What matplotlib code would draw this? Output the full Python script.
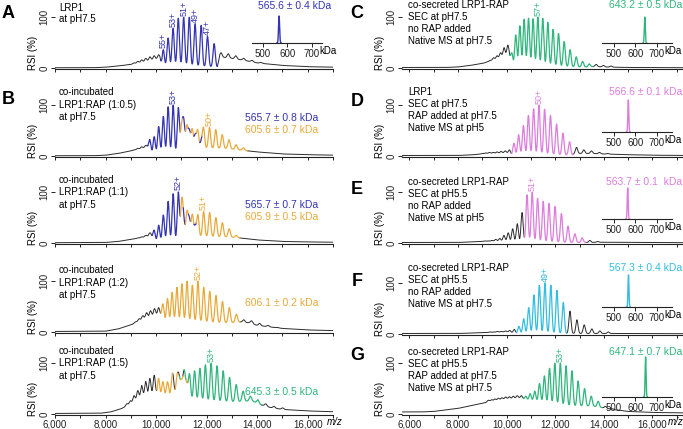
import numpy as np
import matplotlib
matplotlib.use('Agg')
import matplotlib.pyplot as plt

plt.rcParams['font.family'] = ['Liberation Sans', 'DejaVu Sans']

BLUE = '#3434b4'
ORANGE = '#e9a93a'
GREEN = '#2fb67c'
PINK = '#dc7ddc'
CYAN = '#33bde0'
BLACK = '#2b2b2b'

# ---------------- data ----------------
# Panel A : LRP1
A_BG_MZ = [5800, 7500, 8000, 8500, 9000, 9500, 9900, 10150, 10230, 12420, 12520, 13000, 13500, 14000, 15000, 16000, 17200]
A_BG_Y = [0.5, 0.5, 1.5, 4, 7, 11, 16, 18, 2, 2, 22, 19, 15, 10, 5, 2.5, 1.5]
A_BLUE_Z = [55, 54, 53, 52, 51, 50, 49, 48, 47, 46]
A_BLUE_H = [36, 59, 78, 98, 100, 100, 86, 84, 62, 48]
A_BLACK_Z = [62, 61, 60, 59, 58, 57, 56, 45, 44, 43, 42, 41, 40]
A_BLACK_H = [10, 13, 16, 19, 22, 24, 26, 30, 28, 24, 19, 15, 11]

# Panel B1 : LRP1:RAP (1:0.5)
B1_BG_MZ = [5800, 7500, 8000, 8500, 9000, 9500, 9750, 9850, 10900, 11300, 12800, 13300, 14000, 15000, 16000, 17200]
B1_BG_Y = [0.5, 0.5, 1.5, 5, 10, 15, 18, 3, 3, 15, 15, 12, 8, 4, 2.5, 1.5]
B1_BLUE_Z = [58, 57, 56, 55, 54, 53, 52, 51, 50, 49, 48]
B1_BLUE_H = [32, 38, 58, 78, 97, 100, 95, 65, 48, 40, 28]
B1_ORANGE_Z = [55, 54, 53, 52, 51, 50, 49, 48, 47, 46, 45]
B1_ORANGE_H = [55, 58, 52, 50, 55, 56, 52, 42, 32, 22, 16]
B1_BLACK_Z = [64, 63, 62, 61, 60, 59]
B1_BLACK_H = [7, 9, 12, 15, 18, 21]

# Panel B2 : LRP1:RAP (1:1)
B2_BG_MZ = [5800, 8000, 8500, 9000, 9500, 9800, 9950, 11000, 11300, 12900, 13300, 14000, 15000, 16000, 17200]
B2_BG_Y = [0.5, 1, 3, 7, 11, 14, 2, 2, 12, 12, 10, 6, 3, 2, 1.5]
B2_BLUE_Z = [57, 56, 55, 54, 53, 52, 51, 50, 49]
B2_BLUE_H = [25, 35, 55, 82, 97, 100, 40, 45, 32]
B2_ORANGE_Z = [55, 54, 53, 52, 51, 50, 49, 48, 47, 46]
B2_ORANGE_H = [80, 60, 55, 55, 62, 60, 50, 40, 28, 15]
B2_BLACK_Z = [63, 62, 61, 60, 59, 58]
B2_BLACK_H = [6, 8, 10, 12, 15, 20]

# Panel B3 : LRP1:RAP (1:2)
B3_BG_MZ = [5800, 8000, 8500, 9000, 9500, 10000, 10200, 10300, 12900, 13300, 13700, 14000, 15000, 16000, 17200]
B3_BG_Y = [1, 1.5, 6, 14, 24, 32, 30, 18, 18, 20, 18, 13, 7, 4, 2.5]
B3_ORANGE_Z = [59, 58, 57, 56, 55, 54, 53, 52, 51, 50, 49, 48, 47, 46]
B3_ORANGE_H = [55, 66, 78, 88, 95, 100, 92, 100, 88, 80, 72, 60, 48, 35]
B3_BLACK_Z = [66, 65, 64, 63, 62, 61, 60, 45, 44, 43, 42, 41]
B3_BLACK_H = [20, 26, 32, 38, 42, 46, 48, 24, 22, 17, 13, 9]

# Panel B4 : LRP1:RAP (1:5)
B4_BG_MZ = [5800, 7800, 8200, 8600, 9000, 9300, 9600, 10000, 11000, 12000, 13000, 13800, 14100, 14500, 15000, 16000, 17200]
B4_BG_Y = [1, 1.5, 4, 10, 19, 27, 33, 35, 30, 24, 24, 26, 19, 13, 9, 6, 4]
B4_BLACK_Z = [64, 63, 62, 61, 60, 59, 58, 57, 56, 55, 54, 53, 52, 51]
B4_BLACK_H = [20, 26, 36, 46, 56, 64, 70, 73, 50, 42, 42, 62, 64, 55]
B4_ORANGE_Z = [61, 60, 59, 58, 57, 56, 55, 54]
B4_ORANGE_H = [38, 55, 56, 56, 58, 60, 58, 55]
B4_GREEN_Z = [59, 58, 57, 56, 55, 54, 53, 52, 51, 50, 49, 48, 47, 46]
B4_GREEN_H = [50, 62, 78, 85, 90, 97, 100, 95, 85, 72, 58, 45, 35, 28]
B4_TAIL_Z = [45, 44, 43]
B4_TAIL_H = [20, 15, 12]

# Panel C
C_BG_MZ = [5800, 7500, 8000, 8500, 9000, 9500, 9900, 10100, 10200, 13300, 13600, 14000, 15000, 17700]
C_BG_Y = [1, 1, 2, 5, 9, 15, 22, 22, 2, 2, 3, 2, 1, 0.5]
C_GREEN_Z = [63, 62, 61, 60, 59, 58, 57, 56, 55, 54, 53, 52, 51, 50, 49, 48]
C_GREEN_H = [30, 65, 83, 96, 98, 97, 100, 98, 90, 76, 68, 52, 36, 22, 13, 8]
C_BLACK_Z = [70, 69, 68, 67, 66, 65, 64, 47, 46, 45]
C_BLACK_H = [12, 15, 20, 24, 30, 40, 45, 7, 5, 4]

# Panel D
D_BG_MZ = [5800, 8000, 8500, 9000, 9500, 10000, 10200, 12700, 12800, 13500, 14000, 15000, 16000, 17700]
D_BG_Y = [1, 1, 2, 4, 5, 6, 2, 2, 5, 5, 4, 2.5, 1.5, 1]
D_PINK_Z = [55, 54, 53, 52, 51, 50, 49, 48, 47, 46, 45]
D_PINK_H = [25, 42, 60, 80, 93, 100, 92, 80, 63, 45, 28]
D_BLACK_Z = [63, 62, 61, 60, 59, 58, 57, 56, 44, 43, 42, 41, 40]
D_BLACK_H = [5, 6, 7, 7, 8, 9, 10, 12, 17, 12, 10, 7, 5]

# Panel E
E_BG_MZ = [5800, 8000, 8500, 9000, 9500, 10000, 10500, 13300, 14000, 16000, 17700]
E_BG_Y = [1, 1, 2, 3, 3.5, 3, 1, 1, 1.5, 1, 0.5]
E_PINK_Z = [52, 51, 50, 49, 48, 47, 46, 45, 44, 43]
E_PINK_H = [95, 100, 88, 82, 78, 72, 58, 33, 18, 10]
E_BLACK_Z = [62, 61, 60, 59, 58, 57, 56, 55, 54, 53, 42, 41]
E_BLACK_H = [4, 4, 5, 7, 9, 15, 20, 28, 38, 60, 5, 3]

# Panel F
F_BG_MZ = [5800, 8000, 9000, 10000, 10400, 14500, 16000, 17700]
F_BG_Y = [1, 1, 2.5, 4, 1, 1, 0.8, 0.5]
F_CYAN_Z = [54, 53, 52, 51, 50, 49, 48, 47, 46]
F_CYAN_H = [15, 30, 52, 77, 96, 100, 96, 86, 62]
F_BLACK_Z = [62, 61, 60, 59, 58, 57, 56, 55, 45, 44, 43, 42, 41, 40]
F_BLACK_H = [3, 4, 4, 5, 5, 6, 7, 9, 45, 28, 18, 10, 6, 4]

# Panel G
G_BG_MZ = [5600, 6500, 7000, 7500, 8000, 8500, 9000, 9500, 10000, 10500, 10800, 11500, 12500, 13500, 14000, 14500, 15000, 16000, 17700]
G_BG_Y = [4, 4, 5, 8, 11, 16, 21, 26, 29, 31, 28, 22, 15, 16, 12, 8, 5, 3, 2]
G_GREEN_Z = [60, 59, 58, 57, 56, 55, 54, 53, 52, 51, 50, 49, 48, 47]
G_GREEN_H = [35, 40, 45, 60, 75, 90, 100, 100, 95, 85, 65, 50, 35, 25]
G_BLACK_Z = [70, 69, 68, 67, 66, 65, 64, 63, 62, 61, 46, 45, 44]
G_BLACK_H = [27, 28, 29.5, 31, 32, 33.5, 34, 35, 36, 36, 15, 10, 7]

X_TICKS = [6000, 7000, 8000, 9000, 10000, 11000, 12000, 13000, 14000, 15000, 16000, 17000]
X_TICKLABELS = ['6,000', '', '8,000', '', '10,000', '', '12,000', '', '14,000', '', '16,000', '']
INSET_TICKS = [500, 600, 700]

# ---------------- helpers ----------------
W, H = 683, 429
fig = plt.figure(figsize=(W / 100, H / 100), dpi=100)

MZ = np.arange(5500, 17800, 4.0)
SIG = 44.0
PROTON = 1.007
TXT = 7


def px_axes(x0, x1, ytop, ybot):
    return fig.add_axes([x0 / W, 1 - ybot / H, (x1 - x0) / W, (ybot - ytop) / H])


def ft(x, y, s, **kw):
    kw.setdefault('fontsize', TXT)
    return fig.text(x / W, 1 - y / H, s, **kw)


def build(bg_mz, bg_y, series):
    bg = np.interp(MZ, bg_mz, bg_y)
    comps = []
    for mass, zs, hs, color in series:
        pos = mass / np.asarray(zs, float) + PROTON
        amp = np.clip(np.asarray(hs, float) - np.interp(pos, bg_mz, bg_y), 0, None)
        c = (amp[:, None] * np.exp(-0.5 * ((MZ[None, :] - pos[:, None]) / SIG) ** 2)).sum(0)
        ps = np.sort(pos)
        lo = ps[0] - 0.5 * (ps[1] - ps[0])
        hi = ps[-1] + 0.5 * (ps[-1] - ps[-2])
        comps.append((c, (MZ >= lo) & (MZ <= hi), color))
    total = bg + sum(c for c, _, _ in comps)
    best = np.full(MZ.shape, -1)
    bestval = np.full(MZ.shape, -1.0)
    for i, (c, r, col) in enumerate(comps):
        m = r & (c > bestval)
        best[m] = i
        bestval[m] = c[m]
    colors = [comps[b][2] if b >= 0 else BLACK for b in best]
    return total, colors


def draw_runs(ax, x, y, colors):
    n = len(x)
    start = 0
    for i in range(1, n + 1):
        if i == n or colors[i] != colors[start]:
            end = min(i + 1, n)
            col = colors[start]
            ax.plot(x[start:end], y[start:end], color=col,
                    lw=0.7 if col == BLACK else 0.9, zorder=2 if col == BLACK else 3,
                    solid_joinstyle='round')
            start = i


LEFT_Y0 = [68, 156, 243, 332, 414]
RIGHT_Y0 = [68, 156, 243, 334, 414]
LEFT_XLIM = (6000, 17000)
RIGHT_XLIM = (5695, 17259)


def main_axes(col, row):
    x0, x1 = (55, 333) if col == 0 else (402, 683)
    y0 = (LEFT_Y0 if col == 0 else RIGHT_Y0)[row]
    ax = px_axes(x0, x1, y0 - 66, y0 + 1)
    ax.set_xlim(LEFT_XLIM if col == 0 else RIGHT_XLIM)
    ax.set_ylim(-2, 130)
    for s in ('top', 'right', 'left'):
        ax.spines[s].set_visible(False)
    ax.spines['bottom'].set_linewidth(0.8)
    ax.spines['bottom'].set_color('#222222')
    ax.set_xticks(X_TICKS)
    if row == 4:
        ax.set_xticklabels(X_TICKLABELS)
    else:
        ax.set_xticklabels([])
    ax.tick_params(axis='x', direction='out', length=2.5, width=0.7, pad=0.8, labelsize=7, colors='#222222')
    ax.set_yticks([0, 100])
    ax.set_yticklabels(['0', '100'])
    ax.tick_params(axis='y', direction='out', length=3, width=0.7, pad=1, labelsize=7, colors='#222222')
    for t in ax.get_yticklabels():
        t.set_rotation(90)
        t.set_va('center')
    ft(x0 - 22, y0 - 15, 'RSI (%)', rotation=90, ha='center', va='center', fontsize=7)
    if row == 4:
        ft(x1 - 6 if col == 0 else 668, y0 + 8, 'm/z', style='italic', fontsize=7, ha='left', va='center')
    return ax


def spectrum(ax, bg_mz, bg_y, series, labels):
    total, colors = build(bg_mz, bg_y, series)
    draw_runs(ax, MZ, total, colors)
    for mass, z, color in labels:
        p = mass / z + PROTON
        top = np.interp(p, MZ, total)
        ax.annotate(f'{z}+', xy=(p, top), xytext=(0, 1.2), textcoords='offset points',
                    rotation=90, ha='center', va='bottom', fontsize=6.5, color=color)


def inset(x0, x1, ybase, ytop, xlim, mass, color, label, label_x, label_y):
    ax = px_axes(x0, x1, ytop, ybase)
    ax.set_xlim(xlim)
    ax.set_ylim(0, 1)
    k = np.linspace(mass - 9, mass + 9, 200)
    ax.plot(k, np.exp(-0.5 * ((k - mass) / 2.2) ** 2), color=color, lw=1.0, clip_on=False)
    for s in ('top', 'right', 'left'):
        ax.spines[s].set_visible(False)
    ax.spines['bottom'].set_linewidth(0.8)
    ax.spines['bottom'].set_color('#222222')
    ax.set_yticks([])
    ax.set_xticks(INSET_TICKS)
    ax.set_xticklabels([str(t) for t in INSET_TICKS])
    ax.tick_params(axis='x', direction='out', length=3, width=0.7, pad=1.5, labelsize=7, colors='#222222')
    px700 = x0 + (700 - xlim[0]) / (xlim[1] - xlim[0]) * (x1 - x0)
    ft(px700 + 7, ybase + 8, 'kDa', fontsize=7, ha='left', va='center')
    ft(label_x, label_y, label, color=color, ha='right', va='center', fontsize=7.5)


# ---------------- left column ----------------
ax = main_axes(0, 0)
spectrum(ax, A_BG_MZ, A_BG_Y,
         [(565600, A_BLACK_Z, A_BLACK_H, BLACK), (565600, A_BLUE_Z, A_BLUE_H, BLUE)],
         [(565600, z, BLUE) for z in (55, 53, 51, 49, 47)])
inset(252, 322, 43, 16, (455, 741), 565.6, BLUE, '565.6 ± 0.4 kDa', 331, 6)
ft(59, 8, 'LRP1', va='center')
ft(59, 19, 'at pH7.5', va='center')
ft(8, 13.5, 'A', fontsize=13, fontweight='bold', ha='center', va='center')

ax = main_axes(0, 1)
spectrum(ax, B1_BG_MZ, B1_BG_Y,
         [(565700, B1_BLACK_Z, B1_BLACK_H, BLACK), (565700, B1_BLUE_Z, B1_BLUE_H, BLUE),
          (605600, B1_ORANGE_Z, B1_ORANGE_H, ORANGE)],
         [(565700, 53, BLUE), (605600, 50, ORANGE)])
for i, s in enumerate(['co-incubated', 'LRP1:RAP (1:0.5)', 'at pH7.5']):
    ft(59, 92 + 12.5 * i, s, va='center')
ft(318, 118, '565.7 ± 0.8 kDa', color=BLUE, ha='right', va='center', fontsize=7.5)
ft(318, 130, '605.6 ± 0.7 kDa', color=ORANGE, ha='right', va='center', fontsize=7.5)
ft(8, 100, 'B', fontsize=13, fontweight='bold', ha='center', va='center')

ax = main_axes(0, 2)
spectrum(ax, B2_BG_MZ, B2_BG_Y,
         [(565700, B2_BLACK_Z, B2_BLACK_H, BLACK), (565700, B2_BLUE_Z, B2_BLUE_H, BLUE),
          (605900, B2_ORANGE_Z, B2_ORANGE_H, ORANGE)],
         [(565700, 52, BLUE), (605900, 51, ORANGE)])
for i, s in enumerate(['co-incubated', 'LRP1:RAP (1:1)', 'at pH7.5']):
    ft(59, 180 + 12.5 * i, s, va='center')
ft(318, 205, '565.7 ± 0.7 kDa', color=BLUE, ha='right', va='center', fontsize=7.5)
ft(318, 217, '605.9 ± 0.5 kDa', color=ORANGE, ha='right', va='center', fontsize=7.5)

ax = main_axes(0, 3)
spectrum(ax, B3_BG_MZ, B3_BG_Y,
         [(606100, B3_BLACK_Z, B3_BLACK_H, BLACK), (606100, B3_ORANGE_Z, B3_ORANGE_H, ORANGE)],
         [(606100, 52, ORANGE)])
for i, s in enumerate(['co-incubated', 'LRP1:RAP (1:2)', 'at pH7.5']):
    ft(59, 270 + 12.5 * i, s, va='center')
ft(318, 303, '606.1 ± 0.2 kDa', color=ORANGE, ha='right', va='center', fontsize=7.5)

ax = main_axes(0, 4)
spectrum(ax, B4_BG_MZ, B4_BG_Y,
         [(565700, B4_BLACK_Z, B4_BLACK_H, BLACK), (605600, B4_ORANGE_Z, B4_ORANGE_H, ORANGE),
          (645300, B4_GREEN_Z, B4_GREEN_H, GREEN), (645300, B4_TAIL_Z, B4_TAIL_H, BLACK)],
         [(645300, 53, GREEN)])
for i, s in enumerate(['co-incubated', 'LRP1:RAP (1:5)', 'at pH7.5']):
    ft(59, 351 + 12.5 * i, s, va='center')
ft(318, 392, '645.3 ± 0.5 kDa', color=GREEN, ha='right', va='center', fontsize=7.5)

# ---------------- right column ----------------
RX = (444, 770)
ax = main_axes(1, 0)
spectrum(ax, C_BG_MZ, C_BG_Y,
         [(643200, C_BLACK_Z, C_BLACK_H, BLACK), (643200, C_GREEN_Z, C_GREEN_H, GREEN)],
         [(643200, 57, GREEN)])
inset(602, 672, 43, 17, RX, 643.2, GREEN, '643.2 ± 0.5 kDa', 682, 5)
for i, s in enumerate(['co-secreted LRP1-RAP', 'SEC at pH7.5', 'no RAP added', 'Native MS at pH7.5']):
    ft(408, 5 + 12 * i, s, va='center')
ft(357, 14, 'C', fontsize=13, fontweight='bold', ha='center', va='center')

ax = main_axes(1, 1)
spectrum(ax, D_BG_MZ, D_BG_Y,
         [(566600, D_BLACK_Z, D_BLACK_H, BLACK), (566600, D_PINK_Z, D_PINK_H, PINK)],
         [(566600, 50, PINK)])
inset(602, 672, 132, 100, RX, 566.6, PINK, '566.6 ± 0.1 kDa', 682, 92)
for i, s in enumerate(['LRP1', 'SEC at pH7.5', 'RAP added at pH7.5', 'Native MS at pH5']):
    ft(408, 92 + 12 * i, s, va='center')
ft(357, 102, 'D', fontsize=13, fontweight='bold', ha='center', va='center')

ax = main_axes(1, 2)
spectrum(ax, E_BG_MZ, E_BG_Y,
         [(563700, E_BLACK_Z, E_BLACK_H, BLACK), (563700, E_PINK_Z, E_PINK_H, PINK)],
         [(563700, 51, PINK)])
inset(602, 672, 219, 188, RX, 563.7, PINK, '563.7 ± 0.1  kDa', 682, 182)
for i, s in enumerate(['co-secreted LRP1-RAP', 'SEC at pH5.5', 'no RAP added', 'Native MS at pH5']):
    ft(408, 182 + 12 * i, s, va='center')
ft(357, 190, 'E', fontsize=13, fontweight='bold', ha='center', va='center')

ax = main_axes(1, 3)
spectrum(ax, F_BG_MZ, F_BG_Y,
         [(567300, F_BLACK_Z, F_BLACK_H, BLACK), (567300, F_CYAN_Z, F_CYAN_H, CYAN)],
         [(567300, 49, CYAN)])
inset(602, 672, 307, 275, RX, 567.3, CYAN, '567.3 ± 0.4 kDa', 682, 268)
for i, s in enumerate(['co-secreted LRP1-RAP', 'SEC at pH5.5', 'no RAP added', 'Native MS at pH7.5']):
    ft(408, 268 + 12 * i, s, va='center')
ft(357, 282, 'F', fontsize=13, fontweight='bold', ha='center', va='center')

ax = main_axes(1, 4)
spectrum(ax, G_BG_MZ, G_BG_Y,
         [(647100, G_BLACK_Z, G_BLACK_H, BLACK), (647100, G_GREEN_Z, G_GREEN_H, GREEN)],
         [(647100, 53, GREEN)])
inset(602, 672, 397, 357, RX, 647.1, GREEN, '647.1 ± 0.7 kDa', 682, 352)
for i, s in enumerate(['co-secreted LRP1-RAP', 'SEC at pH5.5', 'RAP added at pH7.5', 'Native MS at pH7.5']):
    ft(408, 352 + 12 * i, s, va='center')
ft(357, 356, 'G', fontsize=13, fontweight='bold', ha='center', va='center')

fig.savefig('out.png', dpi=100)
